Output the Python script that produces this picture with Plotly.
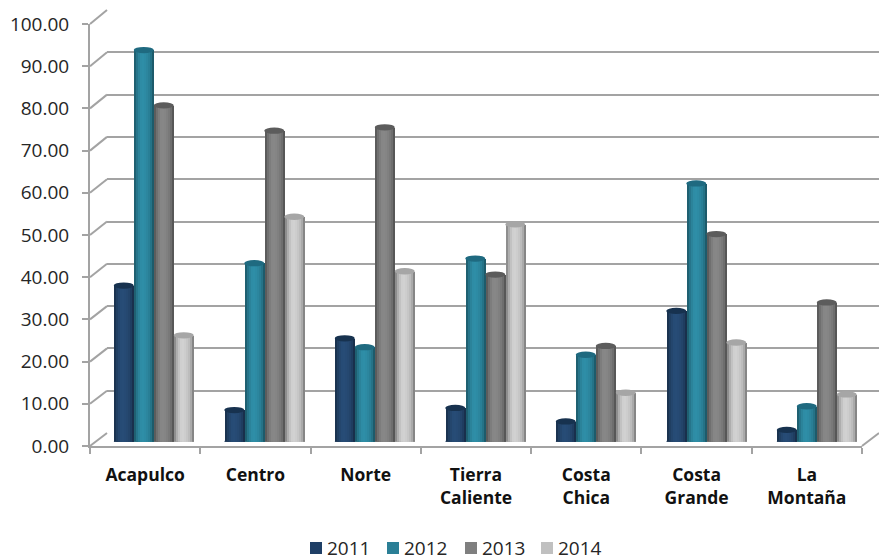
import plotly.graph_objects as go

W, H = 879, 556
categories = ["Acapulco", "Centro", "Norte", "Tierra<br>Caliente", "Costa<br>Chica", "Costa<br>Grande", "La<br>Montaña"]
years = ["2011", "2012", "2013", "2014"]
v2011 = [37.0, 7.5, 24.5, 8.0, 4.8, 31.0, 2.8]
v2012 = [92.8, 42.3, 22.4, 43.4, 20.6, 61.2, 8.4]
v2013 = [79.7, 73.7, 74.5, 39.6, 22.7, 49.2, 33.0]
v2014 = [25.2, 53.3, 40.4, 51.5, 11.6, 23.5, 11.2]
series = [v2011, v2012, v2013, v2014]
base_rgb = [(37, 72, 112), (44, 134, 158), (128, 128, 128), (198, 198, 198)]
top_col = ["#17324f", "#1f6a80", "#5c5c5c", "#a6a6a6"]
legend_col = ["#1f3f66", "#2b7f96", "#7f7f7f", "#c0c0c0"]
shade = [0.72, 0.88, 0.98, 1.05, 1.06, 1.04, 1.0, 0.95, 0.86, 0.68]
grid = "#a3a3a3"
ticks_y = list(range(0, 101, 10))
ticks_lab = [f"{t:.2f}" for t in ticks_y]

def dom_x(a, b):
    return [a / W, b / W]
def dom_y(bottom, top):
    return [1 - bottom / H, 1 - top / H]
def col(rgb, f):
    return "rgb(%d,%d,%d)" % tuple(min(255, int(c * f)) for c in rgb)

BW = 0.181
fig = go.Figure()

# back wall (x/y), front axes (x2/y2), bars (x3/y3)
fig.add_trace(go.Scatter(x=[0], y=[0], xaxis="x", yaxis="y", mode="none", showlegend=False, hoverinfo="skip"))
fig.add_trace(go.Scatter(x=categories, y=[0] * 7, xaxis="x2", yaxis="y2", mode="none", showlegend=False, hoverinfo="skip"))

shapes = []
annotations = []
ell_h = 0.75
for s, vals in enumerate(series):
    left = (s - 2) * BW
    n = len(shade)
    for i, f in enumerate(shade):
        off = left + BW * i / n
        fig.add_trace(go.Bar(
            x=list(range(7)), y=vals, xaxis="x3", yaxis="y3",
            width=BW - BW * i / n, offset=off,
            marker=dict(color=col(base_rgb[s], f), line=dict(width=0)),
            name=years[s], showlegend=False, hoverinfo="skip",
        ))
    for k, v in enumerate(vals):
        shapes.append(dict(type="circle", xref="x3", yref="y3", layer="above",
                           x0=k + left, x1=k + left + BW, y0=v - ell_h, y1=v + ell_h,
                           fillcolor=top_col[s], line=dict(width=0)))
        shapes.append(dict(type="circle", xref="x3", yref="y3", layer="below",
                           x0=k + left, x1=k + left + BW, y0=-ell_h, y1=ell_h,
                           fillcolor=col(base_rgb[s], 0.9), line=dict(width=0)))

# legend keys and labels
leg_x = [310, 387, 465, 541]
leg_y = 548
for s, name in enumerate(years):
    shapes.append(dict(type="rect", xref="paper", yref="paper", layer="above",
                       x0=leg_x[s] / W, x1=(leg_x[s] + 12) / W,
                       y0=1 - (leg_y + 6) / H, y1=1 - (leg_y - 6) / H,
                       fillcolor=legend_col[s], line=dict(width=0)))
    annotations.append(dict(xref="paper", yref="paper", x=(leg_x[s] + 16) / W, y=1 - leg_y / H,
                            xanchor="left", yanchor="middle", text=name, showarrow=False,
                            xshift=0, yshift=0, borderpad=0,
                            font=dict(family="Open Sans", size=19, color="#262626")))

# side wall diagonals joining the front axis to the back wall
fx0, fy0, fy100 = 90, 446, 24
bx0, by0, by100 = 107, 433, 10
for t in ticks_y:
    fy = fy0 + (fy100 - fy0) * t / 100
    by = by0 + (by100 - by0) * t / 100
    shapes.append(dict(type="line", xref="paper", yref="paper", layer="below",
                       x0=fx0 / W, x1=bx0 / W, y0=1 - fy / H, y1=1 - by / H,
                       line=dict(color=grid, width=2)))
shapes.append(dict(type="line", xref="paper", yref="paper", layer="below",
                   x0=862 / W, x1=879 / W, y0=1 - 446 / H, y1=1 - 433 / H,
                   line=dict(color=grid, width=2)))

fig.update_layout(
    width=W, height=H, autosize=False, showlegend=False,
    margin=dict(l=0, r=0, t=0, b=0, autoexpand=False),
    paper_bgcolor="white", plot_bgcolor="rgba(0,0,0,0)",
    barmode="overlay", bargap=0, shapes=shapes, annotations=annotations,
    font=dict(family="Open Sans", color="#262626"),
    xaxis=dict(domain=dom_x(bx0, 879), range=[0, 1], visible=False, anchor="y"),
    yaxis=dict(domain=dom_y(by0, by100), range=[0, 100], anchor="x", tickvals=ticks_y,
               showgrid=True, gridcolor=grid, gridwidth=2, showticklabels=False,
               zeroline=False, showline=False, ticks=""),
    xaxis2=dict(domain=dom_x(fx0, 862), anchor="y2", type="category", categoryorder="array",
                categoryarray=categories, range=[-0.5, 6.5], tickson="boundaries", ticks="outside", ticklen=6,
                tickwidth=2, tickcolor=grid, showline=True, linecolor=grid, linewidth=2,
                showgrid=False, ticklabelstandoff=12,
                tickfont=dict(family="Open Sans", size=17.5, color="#111111", weight="bold")),
    yaxis2=dict(domain=dom_y(fy0, fy100), range=[0, 100], anchor="x2", tickvals=ticks_y,
                ticktext=ticks_lab, ticks="outside", ticklen=6, tickwidth=2, tickcolor=grid,
                showline=True, linecolor=grid, linewidth=2, showgrid=False, zeroline=False,
                ticklabelstandoff=9,
                tickfont=dict(family="Open Sans", size=19, color="#262626")),
    xaxis3=dict(domain=dom_x(98.5, 872), range=[-0.5, 6.5], visible=False, anchor="y3"),
    yaxis3=dict(domain=dom_y(441.7, 19.7), range=[0, 100], visible=False, anchor="x3"),
)
fig.write_html("out.html", config=dict(displayModeBar=False),
               post_script="document.body.style.margin='0';document.documentElement.style.overflow='hidden';")
